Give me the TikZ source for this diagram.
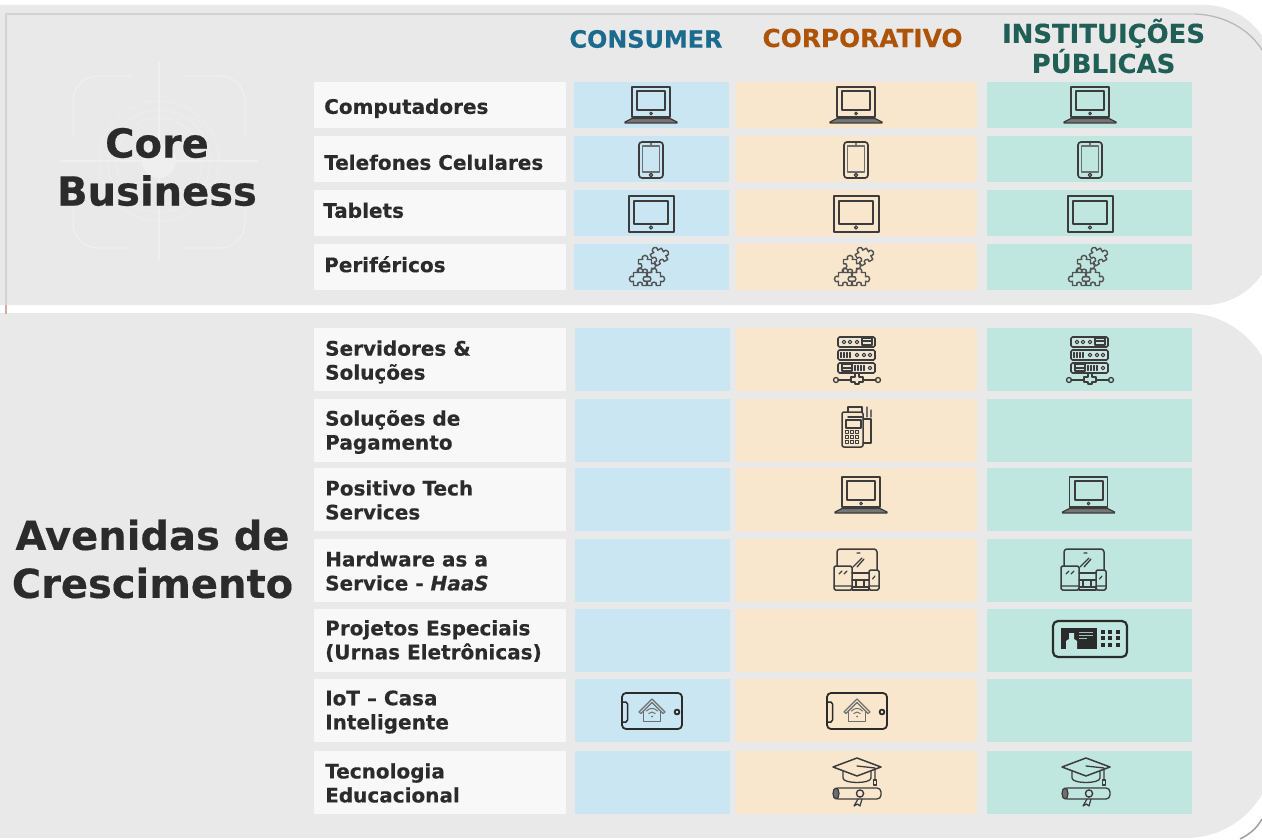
\documentclass[tikz,border=0pt]{standalone}
\usepackage{fontspec}
\setmainfont[BoldFeatures={FakeBold=0.35},BoldItalicFeatures={FakeBold=0.35}]{DejaVu Sans}
\definecolor{panelc}{HTML}{E9E9E9}
\definecolor{edgec}{HTML}{D2D2D2}
\definecolor{edged}{HTML}{A0A0A0}
\definecolor{markc}{HTML}{EFEFEF}
\definecolor{labelc}{HTML}{F8F8F8}
\definecolor{bluec}{HTML}{CAE6F2}
\definecolor{orangec}{HTML}{F8E7CD}
\definecolor{tealc}{HTML}{BFE7DF}
\definecolor{inkc}{HTML}{2B2B2B}
\definecolor{iconc}{HTML}{3C3C3C}
\definecolor{softc}{HTML}{6E6E6E}
\definecolor{head1}{HTML}{1B6B8E}
\definecolor{head2}{HTML}{AE5408}
\definecolor{head3}{HTML}{1F5F55}
\newcommand{\puzzleshape}[3]{%
 \draw[ico,line width=1.4pt,draw=softc!45!iconc,shift={(#1,#2)},rotate=#3]
  (-6.5,-6.5)--(-2.2,-6.5) .. controls (-5,-12) and (5,-12) .. (2.2,-6.5)--(6.5,-6.5)--(6.5,-2.2) .. controls (12,-5) and (12,5) .. (6.5,2.2)--(6.5,6.5)--(2.2,6.5) .. controls (4.5,2) and (-4.5,2) .. (-2.2,6.5)--(-6.5,6.5)--(-6.5,2.2) .. controls (-2,4.5) and (-2,-4.5) .. (-6.5,-2.2)--cycle;}
\tikzset{
 x=1pt,y=-1pt,
 panel/.style={fill=panelc},
 cellbox/.style={inner sep=0pt,outer sep=0pt,draw=none},
 rowlabel/.style={anchor=west,inner sep=0pt,align=left,text=inkc,font=\fontsize{20}{24}\selectfont\bfseries},
 headtxt/.style={inner sep=0pt,align=center},
 bigtxt/.style={inner sep=0pt,align=center,text=inkc,font=\fontsize{40}{48}\selectfont\bfseries},
 ico/.style={draw=iconc,line width=1.7pt,line join=round,line cap=round},
 laptop/.pic={
  \draw[ico] (-19,12) rectangle (19,-18);
  \draw[ico,line width=2pt] (-14,-14) rectangle (14,5);
  \draw[ico,line width=1pt] (0,8.5) circle[radius=1.4];
  \draw[ico,fill=iconc!70!white,line width=1.3pt] (-19,13.5)--(19,13.5)--(26,17)--(26,18)--(-26,18)--(-26,17)--cycle;
 },
 phone/.pic={
  \draw[ico,rounded corners=3pt] (-12,-18) rectangle (12,18);
  \draw[ico,line width=1.2pt,draw=softc] (-8.5,-14) rectangle (8.5,12);
  \draw[ico,line width=1.2pt] (0,15) circle[radius=1.7];
  \draw[ico,line width=.9pt,draw=softc] (0,-16) circle[radius=.8];
 },
 tabletdev/.pic={
  \draw[ico,line width=2pt] (-22.5,-18) rectangle (22.5,18);
  \draw[ico,line width=2pt] (-17,-13) rectangle (17,9.5);
  \draw[ico,line width=1.2pt] (0,13.5) circle[radius=1.6];
 },
 puzzle/.pic={
  \puzzleshape{8}{-11}{30}
  \puzzleshape{-6}{-2}{0}
  \puzzleshape{-11}{11}{90}
  \puzzleshape{3}{11}{0}
 },
 serverrack/.pic={
  \foreach \yy in {-23,-10,3}{\draw[ico,rounded corners=1.5pt,fill=iconc!12!white,fill opacity=.35] (-19,\yy) rectangle (18,\yy+10);}
  \foreach \xx in {-13,-7,0}{\draw[ico,line width=1.1pt] (\xx,-18) circle[radius=1.8];}
  \draw[ico,line width=1.1pt] (5,-22) rectangle (15,-15);
  \draw[ico,line width=1.1pt] (5,-19)--(15,-19);
  \foreach \xx in {-16,-13,-10,-7}{\draw[ico,line width=1.1pt] (\xx,-7.5)--(\xx,-2.5);}
  \foreach \xx in {0,7,13}{\draw[ico,line width=1.1pt] (\xx,-5) circle[radius=1.8];}
  \draw[ico,line width=1.1pt] (-15,4) rectangle (-5,11);
  \draw[ico,line width=1.1pt] (-15,8)--(-5,8);
  \foreach \xx in {-2,1,4,7}{\draw[ico,line width=1.1pt] (\xx,5.5)--(\xx,10.5);}
  \draw[ico,line width=1.1pt] (13,8) circle[radius=1.8];
  \draw[ico] (-2,13)--(-2,17)--(-6,17)--(-6,22)--(-2,22)--(-2,24)--(2,24)--(2,22)--(6,22)--(6,17)--(2,17)--(2,13);
  \draw[ico] (-19,20)--(-6,20) (6,20)--(19,20);
  \draw[ico,line width=1.3pt] (-21,20) circle[radius=2.5] (21,20) circle[radius=2.5];
 },
 payterm/.pic={
  \draw[ico,line width=1.5pt,rounded corners=2pt] (-15,-15) rectangle (6,20);
  \draw[ico,line width=1.5pt] (-9,-15)--(-9,-20)--(5,-20)--(5,-15) (-9,-10)--(5,-10);
  \draw[ico,line width=1.2pt] (-11,-7) rectangle (4,1);
  \foreach \xx in {-10,-5,0}{\foreach \yy in {5,10,15}{\draw[ico,line width=1pt] (\xx-1.7,\yy-1.7) rectangle (\xx+1.7,\yy+1.7);}}
  \draw[ico,line width=1.5pt] (6,-8)--(14,-8)--(14,16)--(6,16);
  \draw[ico,line width=1.2pt,draw=softc] (10,-20)--(10,-10) (14,-17)--(14,-10);
 },
 devices/.pic={
  \draw[ico,line width=1.5pt,rounded corners=3pt] (-20,-4)--(-20,-21)--(20,-21)--(20,0);
  \draw[ico,line width=1.5pt] (-5,3)--(12,3) (-5,10)--(12,10);
  \draw[ico,line width=1.4pt] (-1,10)--(-1,17) (7,10)--(7,17) (-5,17)--(12,17)--(12,20)--(-5,20);
  \draw[ico,line width=1.3pt] (-4,-3)--(5,-12) (0,-3)--(7,-11) (0,-17)--(3,-17);
  \draw[ico,line width=1.5pt,rounded corners=1.5pt] (-23,-4) rectangle (-5,20);
  \draw[ico,line width=1.3pt] (-23,16)--(-5,16) (-18,4)--(-15,1) (-13,4)--(-10,1);
  \draw[ico,line width=1.5pt,rounded corners=1.5pt] (12,0) rectangle (22,20);
  \draw[ico,line width=1.2pt] (12,16)--(22,16) (15.5,9)--(18,6);
 },
 idcard/.pic={
  \draw[ico,line width=2.2pt,draw=inkc,rounded corners=5pt] (-37,-18) rectangle (37,18);
  \fill[inkc] (-29,-11) rectangle (7,10);
  \fill[tealc] (-24,10)--(-24,2)--(-21,0)--(-21,-6)--(-16,-6)--(-16,0)--(-13,2)--(-13,10)--cycle;
  \draw[tealc!85!black,line width=1pt] (-11,-7)--(3,-7) (-11,-4)--(3,-4) (-11,-1)--(-3,-1);
  \foreach \xx in {13,20,28}{\foreach \yy in {-7,-1,6}{\fill[inkc] (\xx-2.4,\yy-2.4) rectangle (\xx+2.4,\yy+2.4);}}
 },
 iotphone/.pic={
  \draw[ico,line width=1.8pt,draw=inkc,rounded corners=4pt] (-30,-18) rectangle (30,18);
  \draw[ico,line width=1.5pt,draw=inkc] (-30,-9)--(-26,-9)--(-24.5,-7)--(-24.5,9)--(-26,11)--(-30,11);
  \draw[ico,line width=1.8pt,draw=inkc] (25,1) circle[radius=2.4];
  \draw[ico,line width=1.1pt,draw=softc] (-13,1)--(0,-12)--(13,1)--(11,2.5)--(0,-8.5)--(-11,2.5)--cycle;
  \draw[ico,line width=1.1pt,draw=softc] (-8.5,0)--(-8.5,10.5)--(8.5,10.5)--(8.5,0);
  \draw[ico,line width=1pt,draw=softc] (-5.5,0) .. controls (-2,-3.5) and (2,-3.5) .. (5.5,0);
  \draw[ico,line width=1pt,draw=softc] (-3.2,2.5) .. controls (-1,.5) and (1,.5) .. (3.2,2.5);
  \fill[softc] (0,5.5) circle[radius=1];
 },
 gradcap/.pic={
  \draw[ico,line width=1.5pt] (0,-25)--(24,-16)--(0,-7)--(-24,-16)--cycle;
  \draw[ico,line width=1.3pt] (-14,-12)--(-14,-5) .. controls (-14,1) and (14,1) .. (14,-5)--(14,-12);
  \draw[ico,line width=1.3pt] (0,-17)--(18,-15)--(18,-3);
  \draw[ico,line width=1.2pt] (16.5,-3) rectangle (19.5,2);
  \draw[ico,line width=1.3pt,rounded corners=4pt] (-23,5) rectangle (24,16);
  \draw[ico,line width=1.2pt,fill=softc] (-21,10.5) ellipse[x radius=3,y radius=5.5];
  \draw[ico,line width=1.2pt] (1,16)--(-3,23)--(0.5,21)--(3,23)--(5,16);
  \draw[ico,line width=1.4pt] (3,10.5) circle[radius=3.6];
 }
}
\begin{document}
\begin{tikzpicture}
\useasboundingbox (0,0) rectangle (1262,840);
\fill[white] (0,0) rectangle (1262,840);
% panels
\begin{scope}
\clip (0,0) rectangle (1262,840);
\fill[panel] (0,5) [rounded corners=70pt] -- (1274,5) -- (1274,305) [sharp corners] -- (0,305) -- cycle;
\fill[panel] (0,313) [rounded corners=88pt] -- (1274,313) -- (1274,838) [sharp corners] -- (0,838) -- cycle;
\draw[edgec,line width=1.5pt] (6,305)--(6,14)--(1195,14);
\draw[edgec!50!edged,line width=1.3pt] (1195,14) .. controls (1225,15) and (1250,30) .. (1262,50);
\draw[edged!70!red!60!white,line width=1.5pt] (6,305)--(6,314);
\draw[edged,line width=1.5pt] (1240,839) .. controls (1250,834) and (1257,828) .. (1262,819);
\end{scope}
% watermark
\begin{scope}[markc,line width=1.3pt]
\draw[markc] (159,62)--(159,260) (60,161)--(258,161);
\draw[markc] (133,76)--(98,76) .. controls (84,76) and (73,87) .. (73,101)--(73,136);
\draw[markc] (184,76)--(220,76) .. controls (234,76) and (245,87) .. (245,101)--(245,136);
\draw[markc] (133,248)--(98,248) .. controls (84,248) and (73,237) .. (73,223)--(73,188);
\draw[markc] (184,248)--(220,248) .. controls (234,248) and (245,237) .. (245,223)--(245,188);
\draw[markc,line width=.7pt] (159,161) circle[radius=60] circle[radius=51] circle[radius=43];
\fill[markc] (159,161) circle[radius=17];
\end{scope}
% section titles
\node[bigtxt] (coretitle) at (157,167) {Core\\Business};
\node[bigtxt] (avtitle) at (152.5,559) {Avenidas de\\Crescimento};
% column heads
\node[headtxt,text=head1,font=\fontsize{23.9}{28}\selectfont\bfseries] (hconsumer) at (646,39) {CONSUMER};
\node[headtxt,text=head2,font=\fontsize{24.8}{28}\selectfont\bfseries] (hcorp) at (862.5,38) {CORPORATIVO};
\node[headtxt,text=head3,font=\fontsize{25.9}{28}\selectfont\bfseries] (hinst) at (1103.5,46) {INSTITUIÇÕES\\PÚBLICAS};
% top rows
\foreach \k/\cy/\h in {a/105/46,b/159/46,c/213/46,d/267/46}{
 \node[cellbox,fill=labelc,minimum width=252pt,minimum height=\h pt] (lab\k) at (440,\cy) {};
 \node[cellbox,fill=bluec,minimum width=155pt,minimum height=\h pt] (blu\k) at (651.5,\cy) {};
 \node[cellbox,fill=orangec,minimum width=241pt,minimum height=\h pt] (ora\k) at (856.5,\cy) {};
 \node[cellbox,fill=tealc,minimum width=205pt,minimum height=\h pt] (tea\k) at (1089.5,\cy) {};
}
% bottom rows
\foreach \k/\cy/\h in {e/359.5/63,f/430.5/63,g/499.5/63,h/570.5/63,i/640.5/63,j/710.5/63,k/782.5/63}{
 \node[cellbox,fill=labelc,minimum width=252pt,minimum height=\h pt] (lab\k) at (440,\cy) {};
 \node[cellbox,fill=bluec,minimum width=155pt,minimum height=\h pt] (blu\k) at (652.5,\cy) {};
 \node[cellbox,fill=orangec,minimum width=241pt,minimum height=\h pt] (ora\k) at (856.5,\cy) {};
 \node[cellbox,fill=tealc,minimum width=205pt,minimum height=\h pt] (tea\k) at (1089.5,\cy) {};
}
% row labels
\node[rowlabel] (ta) at (324,108.3) {Computadores};
\node[rowlabel] (tb) at (324,162.3) {Telefones Celulares};
\node[rowlabel] (tc) at (323,210.3) {Tablets};
\node[rowlabel] (td) at (324,264.3) {Periféricos};
\node[rowlabel] (te) at (325,362) {Servidores \&\\Soluções};
\node[rowlabel] (tf) at (325,432) {Soluções de\\Pagamento};
\node[rowlabel] (tg) at (325,500) {Positivo Tech\\Services};
\node[rowlabel] (th) at (325,571) {Hardware as a\\Service - \textit{HaaS}};
\node[rowlabel] (ti) at (325,641) {Projetos Especiais\\(Urnas Eletrônicas)};
\node[rowlabel] (tj) at (325,712) {IoT – Casa\\Inteligente};
\node[rowlabel] (tk) at (325,783) {Tecnologia\\Educacional};
% icons
\foreach \xx in {651,856,1090}{
 \pic at (\xx,105) {laptop};
 \pic at (\xx,160) {phone};
 \pic at (\xx,214) {tabletdev};
 \pic at (\xx,268) {puzzle};
}
\foreach \xx in {857,1090}{\pic at (\xx,360) {serverrack};}
\pic at (857,427) {payterm};
\pic at (861,495) {laptop};
\pic at (1088.5,495) {laptop};
\pic at (857,570) {devices};
\pic at (1084,570) {devices};
\pic at (1090,639) {idcard};
\pic at (652,711) {iotphone};
\pic at (857,711) {iotphone};
\pic at (857,783) {gradcap};
\pic at (1086,783) {gradcap};
\end{tikzpicture}
\end{document}
